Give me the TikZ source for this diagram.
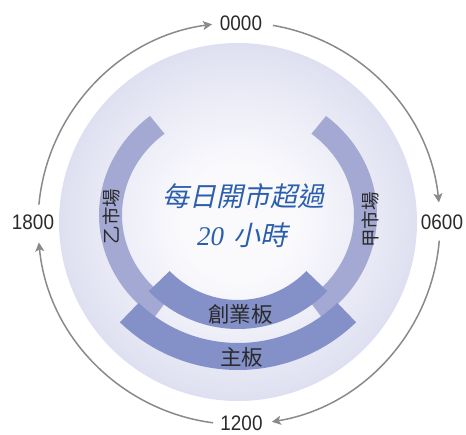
\documentclass[tikz,border=0pt]{standalone}
\usepackage{fontspec}
\setmainfont{Liberation Sans}
\newfontfamily\numfont[FakeStretch=0.9]{Liberation Sans}
\newfontfamily\cjk{Noto Sans CJK TC}
\newfontfamily\cjkslant[FakeSlant=0.22]{Noto Sans CJK TC}
\newfontfamily\serifnum{Liberation Serif}
\usetikzlibrary{arrows.meta,calc}
\definecolor{sideband}{HTML}{A3A9D3}
\definecolor{board}{HTML}{8490C8}
\definecolor{titleblue}{HTML}{2B5FAE}
\definecolor{arrowgray}{HTML}{8A8A8A}
\definecolor{labelgray}{HTML}{2A2A2A}
\definecolor{dc0}{HTML}{FAFAFD}
\definecolor{dc1}{HTML}{E4E5F3}
\definecolor{dc2}{HTML}{CDD0EA}
\definecolor{dc3}{HTML}{BBBFE2}
\definecolor{dc4}{HTML}{ADB2DB}
\pgfdeclareradialshading{diskshade}{\pgfpoint{0bp}{0bp}}{color(0bp)=(dc0); color(8bp)=(dc0); color(22bp)=(dc1); color(33bp)=(dc2); color(42bp)=(dc3); color(50bp)=(dc4)}
\tikzset{
  timelabel/.style={text=labelgray, font=\numfont\fontsize{21}{22}\selectfont, inner sep=2pt},
  cycle arrow/.style={draw=arrowgray, line width=1.5pt, -{Stealth[length=9pt,width=9pt,inset=2pt]}},
  bandlabel/.style={text=labelgray, font=\cjk\fontsize{18.5}{20}\selectfont, inner sep=0pt},
  boardlabel/.style={text=labelgray, font=\cjk\fontsize{21.5}{23}\selectfont, inner sep=0pt},
  titletext/.style={text=titleblue, inner sep=0pt}
}
\begin{document}
\begin{tikzpicture}[x=1pt,y=1pt]
\useasboundingbox (0,0) rectangle (466,434);
% main disk
\coordinate (disk) at (238,212);
\shade[shading=diskshade] (disk) circle[radius=179pt];
% side bands (乙 / 甲), elliptic arcs
\coordinate (sb) at (238,219);
\fill[sideband] ($(sb)+(129.3:139pt and 128pt)$) arc[start angle=129.3, end angle=233, x radius=139pt, y radius=128pt]
  -- ($(sb)+(233:116pt and 105pt)$) arc[start angle=233, end angle=129.3, x radius=116pt, y radius=105pt] -- cycle;
\fill[sideband] ($(sb)+(50.7:139pt and 128pt)$) arc[start angle=50.7, end angle=-53, x radius=139pt, y radius=128pt]
  -- ($(sb)+(-53:116pt and 105pt)$) arc[start angle=-53, end angle=50.7, x radius=116pt, y radius=105pt] -- cycle;
% 創業板 band
\coordinate (cb) at (238,229);
\fill[board] ($(cb)+(224:124pt)$) arc[start angle=224, end angle=316, radius=124pt]
  -- ($(cb)+(316:95pt)$) arc[start angle=316, end angle=224, radius=95pt] -- cycle;
% 主板 band
\coordinate (mb) at (238,234);
\fill[board] ($(mb)+(226:170pt)$) arc[start angle=226, end angle=314, radius=170pt]
  -- ($(mb)+(314:143pt)$) arc[start angle=314, end angle=226, radius=143pt] -- cycle;
% labels on bands
\node[bandlabel, rotate=90] (yi) at (111.5,217.5) {乙市場};
\node[bandlabel, rotate=90] (jia) at (370,214) {甲市場};
\node[boardlabel] (gem) at (240.5,120) {創業板};
\node[boardlabel] (main) at (241.5,77) {主板};
% title
\node[titletext, font=\cjkslant\fontsize{27}{30}\selectfont] (title1) at (243,237.5) {每日開市超過};
\node[titletext] (title2) at (242,199) {{\serifnum\itshape\fontsize{27}{30}\selectfont 20}\hspace{9pt}{\cjkslant\fontsize{27}{30}\selectfont 小時}};
% time labels
\node[timelabel] (t0000) at (241,411) {0000};
\node[timelabel] (t0600) at (442,211.5) {0600};
\node[timelabel] (t1200) at (241.5,10.5) {1200};
\node[timelabel] (t1800) at (33,211.5) {1800};
% cycle arrows
\coordinate (ring) at (239,210.5);
\coordinate (a1) at ($(ring)+(174.6:201pt)$);
\coordinate (a2) at ($(ring)+(80.3:201pt)$);
\coordinate (a3) at ($(ring)+(-4.9:201pt)$);
\coordinate (a4) at ($(ring)+(-97.4:201pt)$);
\draw[cycle arrow] (a1) arc[start angle=174.6, end angle=97.7, radius=201pt];
\draw[cycle arrow] (a2) arc[start angle=80.3, end angle=6, radius=201pt];
\draw[cycle arrow] (a3) arc[start angle=-4.9, end angle=-80.6, radius=201pt];
\draw[cycle arrow] (a4) arc[start angle=-97.4, end angle=-174.6, radius=201pt];
\end{tikzpicture}
\end{document}
